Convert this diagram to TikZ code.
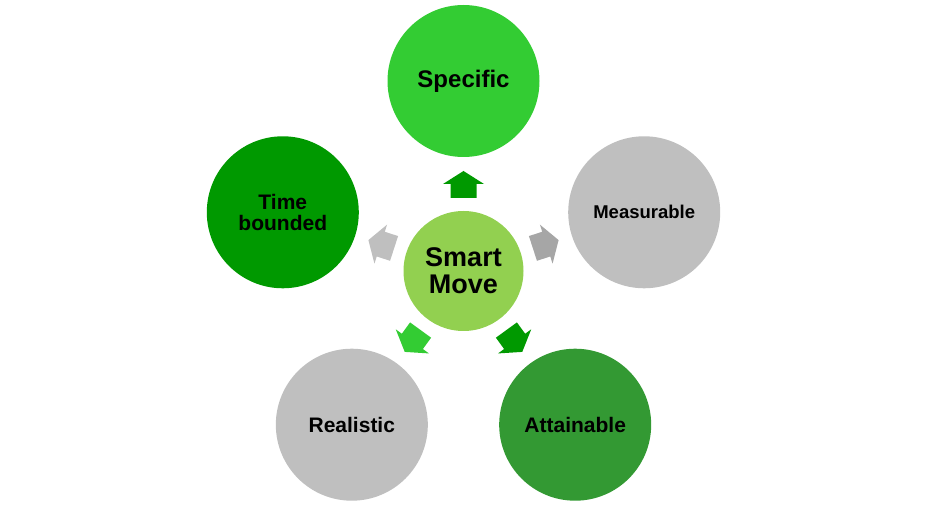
\documentclass[tikz,border=0pt]{standalone}
\usepackage{fontspec}
\setmainfont{Liberation Sans}
\definecolor{movegreen}{HTML}{92D050}
\definecolor{specgreen}{HTML}{33CC33}
\definecolor{timegreen}{HTML}{009900}
\definecolor{attgreen}{HTML}{339933}
\definecolor{goalgray}{HTML}{BFBFBF}
\definecolor{arrowgray}{HTML}{A6A6A6}
\begin{document}
\begin{tikzpicture}[x = 1pt, y = 1pt,
	goal/.style = {shape = circle, inner sep = 0pt, minimum size = 152pt, text = black, align = center}]
	\useasboundingbox (0, 0) rectangle (927, 506);
	\node[goal, fill = movegreen, minimum size = 120pt, font = \bfseries\fontsize{27}{27}\selectfont] (move) at (463.5, 235) {Smart\\Move};
	\foreach \name/\ang/\col/\size/\txt in {spec/90/specgreen/24/Specific, meas/18/goalgray/18.5/Measurable, att/-54/attgreen/21/Attainable, real/-126/goalgray/21/Realistic, time/162/timegreen/21/{Time\\bounded}}{
		\node[goal, fill = \col, font = \bfseries\fontsize{\size}{\size}\selectfont] (\name) at ([shift = {(\ang:190)}]move.center) {\txt};}
	\foreach \ang/\col in {90/timegreen, 18/arrowgray, -54/timegreen, -126/specgreen, 162/goalgray}{
		\fill[\col, shift = {(move.center)}, rotate = \ang - 90] (-13, 73) -- (13, 73) -- (13, 87) -- (20.5, 87) -- (0, 100) -- (-20.5, 87) -- (-13, 87) -- cycle;}
\end{tikzpicture}
\end{document}
